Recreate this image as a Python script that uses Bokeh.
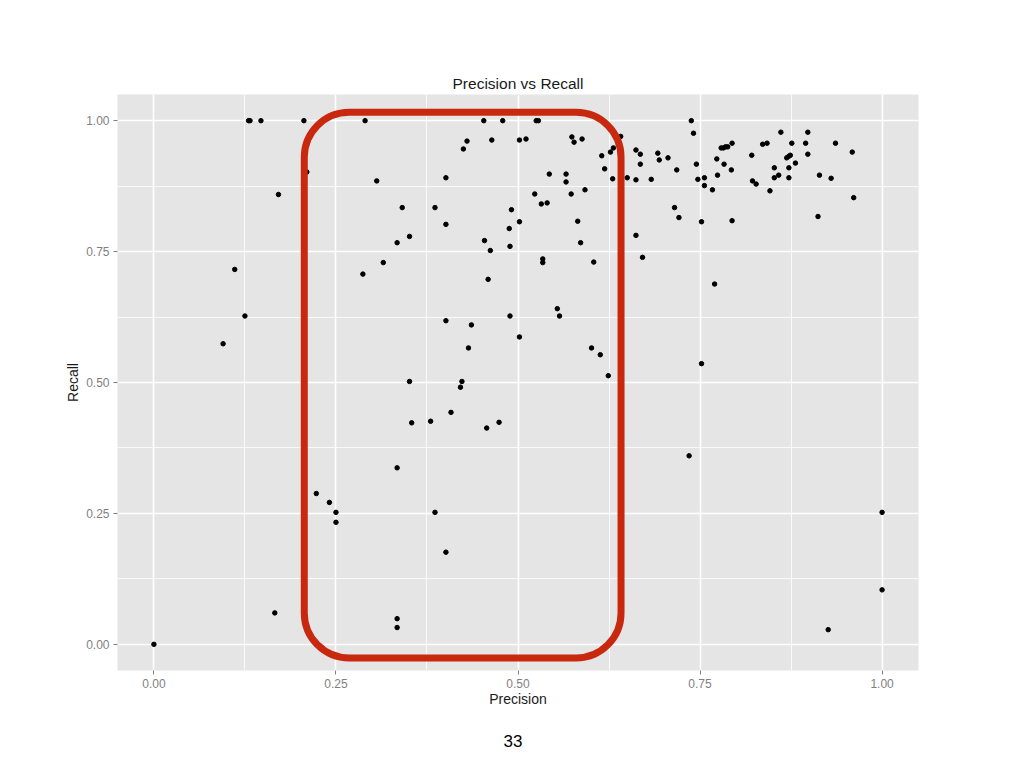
from bokeh.plotting import figure
from bokeh.models import FixedTicker, BoxAnnotation, Title, Range1d
from bokeh.embed import file_html
from bokeh.resources import INLINE

# ---------------- data ----------------
precision = [
    0.000, 0.095, 0.111, 0.125, 0.130, 0.132, 0.147, 0.171, 0.166, 0.206,
    0.210, 0.223, 0.241, 0.250, 0.250, 0.290, 0.306, 0.287, 0.315, 0.334,
    0.341, 0.351, 0.351, 0.354, 0.334, 0.334, 0.334, 0.453, 0.479, 0.525,
    0.528, 0.430, 0.425, 0.464, 0.502, 0.511, 0.574, 0.577, 0.588, 0.641,
    0.631, 0.627, 0.615, 0.619, 0.630, 0.650, 0.662, 0.662, 0.401, 0.543,
    0.566, 0.566, 0.592, 0.573, 0.523, 0.532, 0.540, 0.386, 0.491, 0.488,
    0.502, 0.401, 0.582, 0.454, 0.462, 0.489, 0.586, 0.662, 0.534, 0.534,
    0.604, 0.459, 0.554, 0.557, 0.401, 0.436, 0.489, 0.502, 0.432, 0.601,
    0.613, 0.624, 0.423, 0.421, 0.408, 0.380, 0.457, 0.474, 0.386, 0.401,
    1.000, 1.000, 0.926, 0.735, 0.752, 0.668, 0.668, 0.683, 0.692, 0.694,
    0.706, 0.718, 0.715, 0.721, 0.671, 0.738, 0.741, 0.745, 0.747, 0.756,
    0.756, 0.767, 0.752, 0.770, 0.773, 0.774, 0.783, 0.779, 0.782, 0.785,
    0.788, 0.794, 0.793, 0.794, 0.821, 0.822, 0.827, 0.836, 0.842, 0.846,
    0.852, 0.852, 0.858, 0.861, 0.876, 0.869, 0.872, 0.874, 0.872, 0.872,
    0.881, 0.895, 0.898, 0.898, 0.912, 0.914, 0.930, 0.936, 0.959, 0.961,
]
recall = [
    0.000, 0.574, 0.716, 0.627, 1.000, 1.000, 1.000, 0.859, 0.060, 1.000,
    0.902, 0.288, 0.271, 0.252, 0.233, 1.000, 0.885, 0.707, 0.729, 0.767,
    0.834, 0.779, 0.502, 0.423, 0.337, 0.049, 0.032, 1.000, 1.000, 1.000,
    1.000, 0.961, 0.946, 0.963, 0.963, 0.965, 0.969, 0.959, 0.965, 0.970,
    0.948, 0.940, 0.933, 0.908, 0.889, 0.891, 0.887, 0.944, 0.891, 0.898,
    0.898, 0.883, 0.868, 0.860, 0.860, 0.841, 0.843, 0.834, 0.830, 0.794,
    0.807, 0.802, 0.808, 0.771, 0.752, 0.760, 0.767, 0.781, 0.736, 0.729,
    0.730, 0.697, 0.641, 0.627, 0.618, 0.610, 0.627, 0.587, 0.566, 0.566,
    0.553, 0.513, 0.502, 0.491, 0.443, 0.426, 0.413, 0.424, 0.252, 0.176,
    0.252, 0.104, 0.028, 0.360, 0.536, 0.936, 0.917, 0.888, 0.938, 0.925,
    0.929, 0.906, 0.834, 0.815, 0.739, 1.000, 0.976, 0.917, 0.888, 0.891,
    0.876, 0.868, 0.807, 0.688, 0.927, 0.896, 0.917, 0.948, 0.948, 0.950,
    0.950, 0.957, 0.906, 0.809, 0.934, 0.885, 0.879, 0.955, 0.957, 0.866,
    0.910, 0.891, 0.896, 0.978, 0.957, 0.929, 0.932, 0.934, 0.910, 0.891,
    0.919, 0.957, 0.978, 0.936, 0.817, 0.896, 0.890, 0.957, 0.940, 0.853,
]
tick_values = [0.0, 0.25, 0.5, 0.75, 1.0]
tick_labels = ["0.00", "0.25", "0.50", "0.75", "1.00"]
minor_tick_values = [0.125, 0.375, 0.625, 0.875]

# ---------------- figure ----------------
FONT = "Liberation Sans"
p = figure(
    width=1008, height=768,
    frame_width=801, frame_height=576,
    x_range=Range1d(-0.05, 1.05), y_range=Range1d(-0.05, 1.05),
    output_backend="svg", toolbar_location=None,
    min_border_left=117, min_border_top=94, min_border_right=90, min_border_bottom=98,
    title="Precision vs Recall",
)
p.background_fill_color = "#e5e5e5"
p.border_fill_color = "white"
p.outline_line_color = None

p.title.align = "center"
p.title.text_font = FONT
p.title.text_font_size = "15.5px"
p.title.text_font_style = "normal"
p.title.text_color = "#1a1a1a"
p.title.standoff = 6

ticker = FixedTicker(ticks=tick_values, minor_ticks=minor_tick_values)
for ax in (p.xaxis[0], p.yaxis[0]):
    ax.ticker = ticker
    ax.major_label_overrides = {v: s for v, s in zip(tick_values, tick_labels)}
    ax.axis_line_color = None
    ax.major_tick_line_color = "#7f7f7f"
    ax.major_tick_line_width = 1
    ax.major_tick_out = 4
    ax.major_tick_in = 0
    ax.minor_tick_line_color = None
    ax.major_label_text_font = FONT
    ax.major_label_text_font_size = "12px"
    ax.major_label_text_color = "#7f7f7f"
    ax.major_label_standoff = 4
    ax.axis_label_text_font = FONT
    ax.axis_label_text_font_size = "14px"
    ax.axis_label_text_font_style = "normal"
    ax.axis_label_text_color = "#1a1a1a"
    ax.axis_label_standoff = 0

p.yaxis[0].axis_label_standoff = 2
p.xaxis.axis_label = "Precision"
p.yaxis.axis_label = "Recall"

for g in (p.xgrid[0], p.ygrid[0]):
    g.grid_line_color = "white"
    g.grid_line_width = 1.6
    g.minor_grid_line_color = "white"
    g.minor_grid_line_width = 0.8

p.scatter(precision, recall, size=4.5, color="black")

# highlight box (annotation)
box = BoxAnnotation(left=0.2065, right=0.6415, top=1.016, bottom=-0.026,
                    fill_alpha=0, line_color="#c8290e", line_alpha=1.0,
                    line_width=7, border_radius=45)
p.add_layout(box)

# slide number
page = Title(text="33", align="left", offset=386, text_font=FONT,
             text_font_size="17px", text_font_style="normal",
             text_color="black", standoff=46)
p.add_layout(page, "below")

open("out.html", "w").write(file_html(p, INLINE))
